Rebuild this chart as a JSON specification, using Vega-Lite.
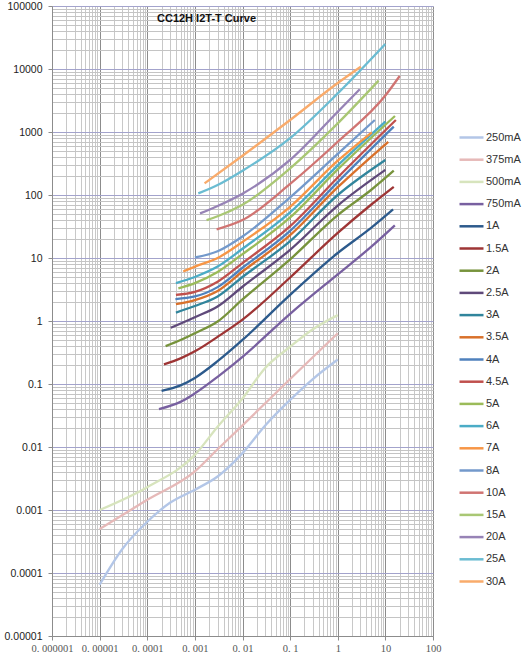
{
  "$schema": "https://vega.github.io/schema/vega-lite/v6.json",
  "width": 381,
  "height": 630,
  "autosize": "none",
  "padding": {"left": 52, "top": 6, "right": 91, "bottom": 22},
  "background": "white",
  "title": {
    "text": "CC12H I2T-T Curve",
    "anchor": "start",
    "frame": "group",
    "orient": "top",
    "offset": -29,
    "dx": 105,
    "baseline": "middle",
    "font": "Liberation Sans",
    "fontSize": 11,
    "fontWeight": "bold",
    "color": "#111111"
  },
  "data": {
    "values": [
      {"series": "250mA", "t": 0.00001, "i2t": 0.000065},
      {"series": "250mA", "t": 0.00003, "i2t": 0.00024},
      {"series": "250mA", "t": 0.0001, "i2t": 0.00065},
      {"series": "250mA", "t": 0.0003, "i2t": 0.0013},
      {"series": "250mA", "t": 0.001, "i2t": 0.0021},
      {"series": "250mA", "t": 0.003, "i2t": 0.0034},
      {"series": "250mA", "t": 0.01, "i2t": 0.008},
      {"series": "250mA", "t": 0.03, "i2t": 0.022},
      {"series": "250mA", "t": 0.1, "i2t": 0.056},
      {"series": "250mA", "t": 0.3, "i2t": 0.12},
      {"series": "250mA", "t": 1, "i2t": 0.245},

      {"series": "375mA", "t": 0.00001, "i2t": 0.0005},
      {"series": "375mA", "t": 0.0001, "i2t": 0.00145},
      {"series": "375mA", "t": 0.001, "i2t": 0.0041},
      {"series": "375mA", "t": 0.003, "i2t": 0.0092},
      {"series": "375mA", "t": 0.01, "i2t": 0.022},
      {"series": "375mA", "t": 0.1, "i2t": 0.12},
      {"series": "375mA", "t": 1, "i2t": 0.64},

      {"series": "500mA", "t": 0.00001, "i2t": 0.001},
      {"series": "500mA", "t": 0.0001, "i2t": 0.0023},
      {"series": "500mA", "t": 0.001, "i2t": 0.0075},
      {"series": "500mA", "t": 0.003, "i2t": 0.021},
      {"series": "500mA", "t": 0.01, "i2t": 0.059},
      {"series": "500mA", "t": 0.03, "i2t": 0.18},
      {"series": "500mA", "t": 0.1, "i2t": 0.39},
      {"series": "500mA", "t": 0.3, "i2t": 0.74},
      {"series": "500mA", "t": 1, "i2t": 1.24},

      {"series": "750mA", "t": 0.000176, "i2t": 0.04},
      {"series": "750mA", "t": 0.0005, "i2t": 0.052},
      {"series": "750mA", "t": 0.001, "i2t": 0.071},
      {"series": "750mA", "t": 0.003, "i2t": 0.13},
      {"series": "750mA", "t": 0.01, "i2t": 0.27},
      {"series": "750mA", "t": 0.1, "i2t": 1.3},
      {"series": "750mA", "t": 1, "i2t": 5.5},
      {"series": "750mA", "t": 5, "i2t": 15},
      {"series": "750mA", "t": 15.8, "i2t": 33},

      {"series": "1A", "t": 0.0002, "i2t": 0.078},
      {"series": "1A", "t": 0.0005, "i2t": 0.095},
      {"series": "1A", "t": 0.001, "i2t": 0.125},
      {"series": "1A", "t": 0.003, "i2t": 0.23},
      {"series": "1A", "t": 0.01, "i2t": 0.5},
      {"series": "1A", "t": 0.1, "i2t": 2.6},
      {"series": "1A", "t": 1, "i2t": 12},
      {"series": "1A", "t": 5, "i2t": 30},
      {"series": "1A", "t": 14.5, "i2t": 59},

      {"series": "1.5A", "t": 0.000224, "i2t": 0.205},
      {"series": "1.5A", "t": 0.0005, "i2t": 0.255},
      {"series": "1.5A", "t": 0.001, "i2t": 0.33},
      {"series": "1.5A", "t": 0.003, "i2t": 0.56},
      {"series": "1.5A", "t": 0.01, "i2t": 1.05},
      {"series": "1.5A", "t": 0.1, "i2t": 4.9},
      {"series": "1.5A", "t": 1, "i2t": 25},
      {"series": "1.5A", "t": 5, "i2t": 70},
      {"series": "1.5A", "t": 15, "i2t": 135},

      {"series": "2A", "t": 0.000243, "i2t": 0.4},
      {"series": "2A", "t": 0.0005, "i2t": 0.5},
      {"series": "2A", "t": 0.001, "i2t": 0.64},
      {"series": "2A", "t": 0.003, "i2t": 0.98},
      {"series": "2A", "t": 0.01, "i2t": 2.2},
      {"series": "2A", "t": 0.1, "i2t": 9.5},
      {"series": "2A", "t": 1, "i2t": 48},
      {"series": "2A", "t": 5, "i2t": 120},
      {"series": "2A", "t": 15, "i2t": 243},

      {"series": "2.5A", "t": 0.00031, "i2t": 0.78},
      {"series": "2.5A", "t": 0.001, "i2t": 1.15},
      {"series": "2.5A", "t": 0.003, "i2t": 1.7},
      {"series": "2.5A", "t": 0.01, "i2t": 3.5},
      {"series": "2.5A", "t": 0.1, "i2t": 13.5},
      {"series": "2.5A", "t": 1, "i2t": 68},
      {"series": "2.5A", "t": 10, "i2t": 250},

      {"series": "3A", "t": 0.0004, "i2t": 1.36},
      {"series": "3A", "t": 0.001, "i2t": 1.73},
      {"series": "3A", "t": 0.003, "i2t": 2.45},
      {"series": "3A", "t": 0.01, "i2t": 5},
      {"series": "3A", "t": 0.1, "i2t": 18.5},
      {"series": "3A", "t": 1, "i2t": 100},
      {"series": "3A", "t": 10, "i2t": 360},

      {"series": "3.5A", "t": 0.0004, "i2t": 1.86},
      {"series": "3.5A", "t": 0.001, "i2t": 2.15},
      {"series": "3.5A", "t": 0.003, "i2t": 3},
      {"series": "3.5A", "t": 0.01, "i2t": 6.1},
      {"series": "3.5A", "t": 0.1, "i2t": 23},
      {"series": "3.5A", "t": 1, "i2t": 133},
      {"series": "3.5A", "t": 11.5, "i2t": 700},

      {"series": "4A", "t": 0.00039, "i2t": 2.23},
      {"series": "4A", "t": 0.001, "i2t": 2.45},
      {"series": "4A", "t": 0.003, "i2t": 3.45},
      {"series": "4A", "t": 0.01, "i2t": 7},
      {"series": "4A", "t": 0.1, "i2t": 27},
      {"series": "4A", "t": 1, "i2t": 160},
      {"series": "4A", "t": 15, "i2t": 1215},

      {"series": "4.5A", "t": 0.0004, "i2t": 2.6},
      {"series": "4.5A", "t": 0.001, "i2t": 2.9},
      {"series": "4.5A", "t": 0.003, "i2t": 4.2},
      {"series": "4.5A", "t": 0.01, "i2t": 8.3},
      {"series": "4.5A", "t": 0.1, "i2t": 32},
      {"series": "4.5A", "t": 1, "i2t": 190},
      {"series": "4.5A", "t": 16.6, "i2t": 1550},

      {"series": "5A", "t": 0.00045, "i2t": 3.3},
      {"series": "5A", "t": 0.001, "i2t": 4},
      {"series": "5A", "t": 0.003, "i2t": 6},
      {"series": "5A", "t": 0.01, "i2t": 11.5},
      {"series": "5A", "t": 0.1, "i2t": 44},
      {"series": "5A", "t": 1, "i2t": 255},
      {"series": "5A", "t": 15.9, "i2t": 1795},

      {"series": "6A", "t": 0.0004, "i2t": 4},
      {"series": "6A", "t": 0.001, "i2t": 5},
      {"series": "6A", "t": 0.003, "i2t": 7.3},
      {"series": "6A", "t": 0.01, "i2t": 14},
      {"series": "6A", "t": 0.1, "i2t": 53},
      {"series": "6A", "t": 1, "i2t": 295},
      {"series": "6A", "t": 10, "i2t": 1460},

      {"series": "7A", "t": 0.00057, "i2t": 6.1},
      {"series": "7A", "t": 0.001, "i2t": 7.3},
      {"series": "7A", "t": 0.003, "i2t": 10},
      {"series": "7A", "t": 0.01, "i2t": 18},
      {"series": "7A", "t": 0.1, "i2t": 65},
      {"series": "7A", "t": 1, "i2t": 350},
      {"series": "7A", "t": 5.2, "i2t": 990},

      {"series": "8A", "t": 0.001, "i2t": 10.2},
      {"series": "8A", "t": 0.003, "i2t": 12.8},
      {"series": "8A", "t": 0.01, "i2t": 22},
      {"series": "8A", "t": 0.1, "i2t": 92},
      {"series": "8A", "t": 1, "i2t": 450},
      {"series": "8A", "t": 6, "i2t": 1550},

      {"series": "10A", "t": 0.00286, "i2t": 28.5},
      {"series": "10A", "t": 0.01, "i2t": 40},
      {"series": "10A", "t": 0.1, "i2t": 150},
      {"series": "10A", "t": 1, "i2t": 700},
      {"series": "10A", "t": 10, "i2t": 3800},
      {"series": "10A", "t": 20, "i2t": 7740},

      {"series": "15A", "t": 0.00176, "i2t": 40},
      {"series": "15A", "t": 0.003, "i2t": 46},
      {"series": "15A", "t": 0.01, "i2t": 70},
      {"series": "15A", "t": 0.1, "i2t": 265},
      {"series": "15A", "t": 1, "i2t": 1370},
      {"series": "15A", "t": 7.2, "i2t": 6530},

      {"series": "20A", "t": 0.00128, "i2t": 51},
      {"series": "20A", "t": 0.003, "i2t": 67},
      {"series": "20A", "t": 0.01, "i2t": 105},
      {"series": "20A", "t": 0.1, "i2t": 360},
      {"series": "20A", "t": 1, "i2t": 2100},
      {"series": "20A", "t": 2.9, "i2t": 4760},

      {"series": "25A", "t": 0.00118, "i2t": 106},
      {"series": "25A", "t": 0.003, "i2t": 144},
      {"series": "25A", "t": 0.01, "i2t": 243},
      {"series": "25A", "t": 0.1, "i2t": 800},
      {"series": "25A", "t": 1, "i2t": 4100},
      {"series": "25A", "t": 10, "i2t": 25000},

      {"series": "30A", "t": 0.0016, "i2t": 153},
      {"series": "30A", "t": 0.01, "i2t": 420},
      {"series": "30A", "t": 0.1, "i2t": 1550},
      {"series": "30A", "t": 1, "i2t": 6000},
      {"series": "30A", "t": 3.05, "i2t": 10900}
    ]
  },
  "mark": {"type": "line", "interpolate": "monotone", "strokeWidth": 2.3, "clip": true},
  "encoding": {
    "x": {
      "field": "t",
      "type": "quantitative",
      "scale": {"type": "log", "domain": [0.000001, 100], "nice": false},
      "axis": {
        "title": null,
        "values": [0.000001, 0.000002, 0.000003, 0.000004, 0.000005, 0.000006, 0.000007, 0.000008, 0.000009,
                   0.00001, 0.00002, 0.00003, 0.00004, 0.00005, 0.00006, 0.00007, 0.00008, 0.00009,
                   0.0001, 0.0002, 0.0003, 0.0004, 0.0005, 0.0006, 0.0007, 0.0008, 0.0009,
                   0.001, 0.002, 0.003, 0.004, 0.005, 0.006, 0.007, 0.008, 0.009,
                   0.01, 0.02, 0.03, 0.04, 0.05, 0.06, 0.07, 0.08, 0.09,
                   0.1, 0.2, 0.3, 0.4, 0.5, 0.6, 0.7, 0.8, 0.9,
                   1, 2, 3, 4, 5, 6, 7, 8, 9,
                   10, 20, 30, 40, 50, 60, 70, 80, 90, 100],
        "grid": true,
        "gridColor": {"condition": {"test": "abs(log(datum.value)/LN10 - round(log(datum.value)/LN10)) < 0.001", "value": "#8c8c8c"}, "value": "#c8c8c8"},
        "gridWidth": 1,
        "domainColor": "#8c8c8c",
        "tickColor": "#8c8c8c",
        "tickSize": {"condition": {"test": "abs(log(datum.value)/LN10 - round(log(datum.value)/LN10)) < 0.001", "value": 4}, "value": 0},
        "labelExpr": "abs(log(datum.value)/LN10 - round(log(datum.value)/LN10)) < 0.001 ? replace(format(datum.value, '~f'), '.', '. ') : ''",
        "labelFont": "Liberation Serif",
        "labelFontSize": 10.5,
        "labelColor": "#555555",
        "labelFlush": false,
        "labelOverlap": false,
        "labelBound": false,
        "labelPadding": 3
      }
    },
    "y": {
      "field": "i2t",
      "type": "quantitative",
      "scale": {"type": "log", "domain": [0.00001, 100000], "nice": false},
      "axis": {
        "title": null,
        "values": [0.00001, 0.00002, 0.00003, 0.00004, 0.00005, 0.00006, 0.00007, 0.00008, 0.00009,
                   0.0001, 0.0002, 0.0003, 0.0004, 0.0005, 0.0006, 0.0007, 0.0008, 0.0009,
                   0.001, 0.002, 0.003, 0.004, 0.005, 0.006, 0.007, 0.008, 0.009,
                   0.01, 0.02, 0.03, 0.04, 0.05, 0.06, 0.07, 0.08, 0.09,
                   0.1, 0.2, 0.3, 0.4, 0.5, 0.6, 0.7, 0.8, 0.9,
                   1, 2, 3, 4, 5, 6, 7, 8, 9,
                   10, 20, 30, 40, 50, 60, 70, 80, 90,
                   100, 200, 300, 400, 500, 600, 700, 800, 900,
                   1000, 2000, 3000, 4000, 5000, 6000, 7000, 8000, 9000,
                   10000, 20000, 30000, 40000, 50000, 60000, 70000, 80000, 90000, 100000],
        "grid": true,
        "gridColor": {"condition": {"test": "abs(log(datum.value)/LN10 - round(log(datum.value)/LN10)) < 0.001", "value": "#a3a3cc"}, "value": "#c4c4c4"},
        "gridWidth": 1,
        "domainColor": "#8c8c8c",
        "tickColor": "#8c8c8c",
        "tickSize": {"condition": {"test": "abs(log(datum.value)/LN10 - round(log(datum.value)/LN10)) < 0.001", "value": 4}, "value": 0},
        "labelExpr": "abs(log(datum.value)/LN10 - round(log(datum.value)/LN10)) < 0.001 ? format(datum.value, '~f') : ''",
        "labelFont": "Liberation Sans",
        "labelFontSize": 10.5,
        "labelColor": "#222222",
        "labelFlush": false,
        "labelOverlap": false,
        "labelBound": false,
        "labelPadding": 6
      }
    },
    "color": {
      "field": "series",
      "type": "nominal",
      "scale": {
        "domain": ["250mA", "375mA", "500mA", "750mA", "1A", "1.5A", "2A", "2.5A", "3A", "3.5A", "4A", "4.5A", "5A", "6A", "7A", "8A", "10A", "15A", "20A", "25A", "30A"],
        "range": ["#b3c6e7", "#e6b9b8", "#d7e4bd", "#7860a0", "#2c5a8c", "#9e3535", "#77933c", "#5f497a", "#31859c", "#d9712b", "#4f81bd", "#c0504d", "#9bbb59", "#4bacc6", "#f79646", "#7399cb", "#d07472", "#a9c774", "#9783b6", "#6bbcd2", "#f9ab6b"]
      },
      "legend": {
        "title": null,
        "orient": "none",
        "legendX": 406,
        "legendY": 118,
        "padding": 0,
        "symbolType": "stroke",
        "symbolSize": 576,
        "symbolStrokeWidth": 2.5,
        "labelFont": "Liberation Sans",
        "labelFontSize": 11,
        "labelColor": "#333333",
        "labelOffset": 1,
        "rowPadding": 3.2,
        "labelLimit": 100
      }
    }
  },
  "config": {"view": {"stroke": null}}
}
